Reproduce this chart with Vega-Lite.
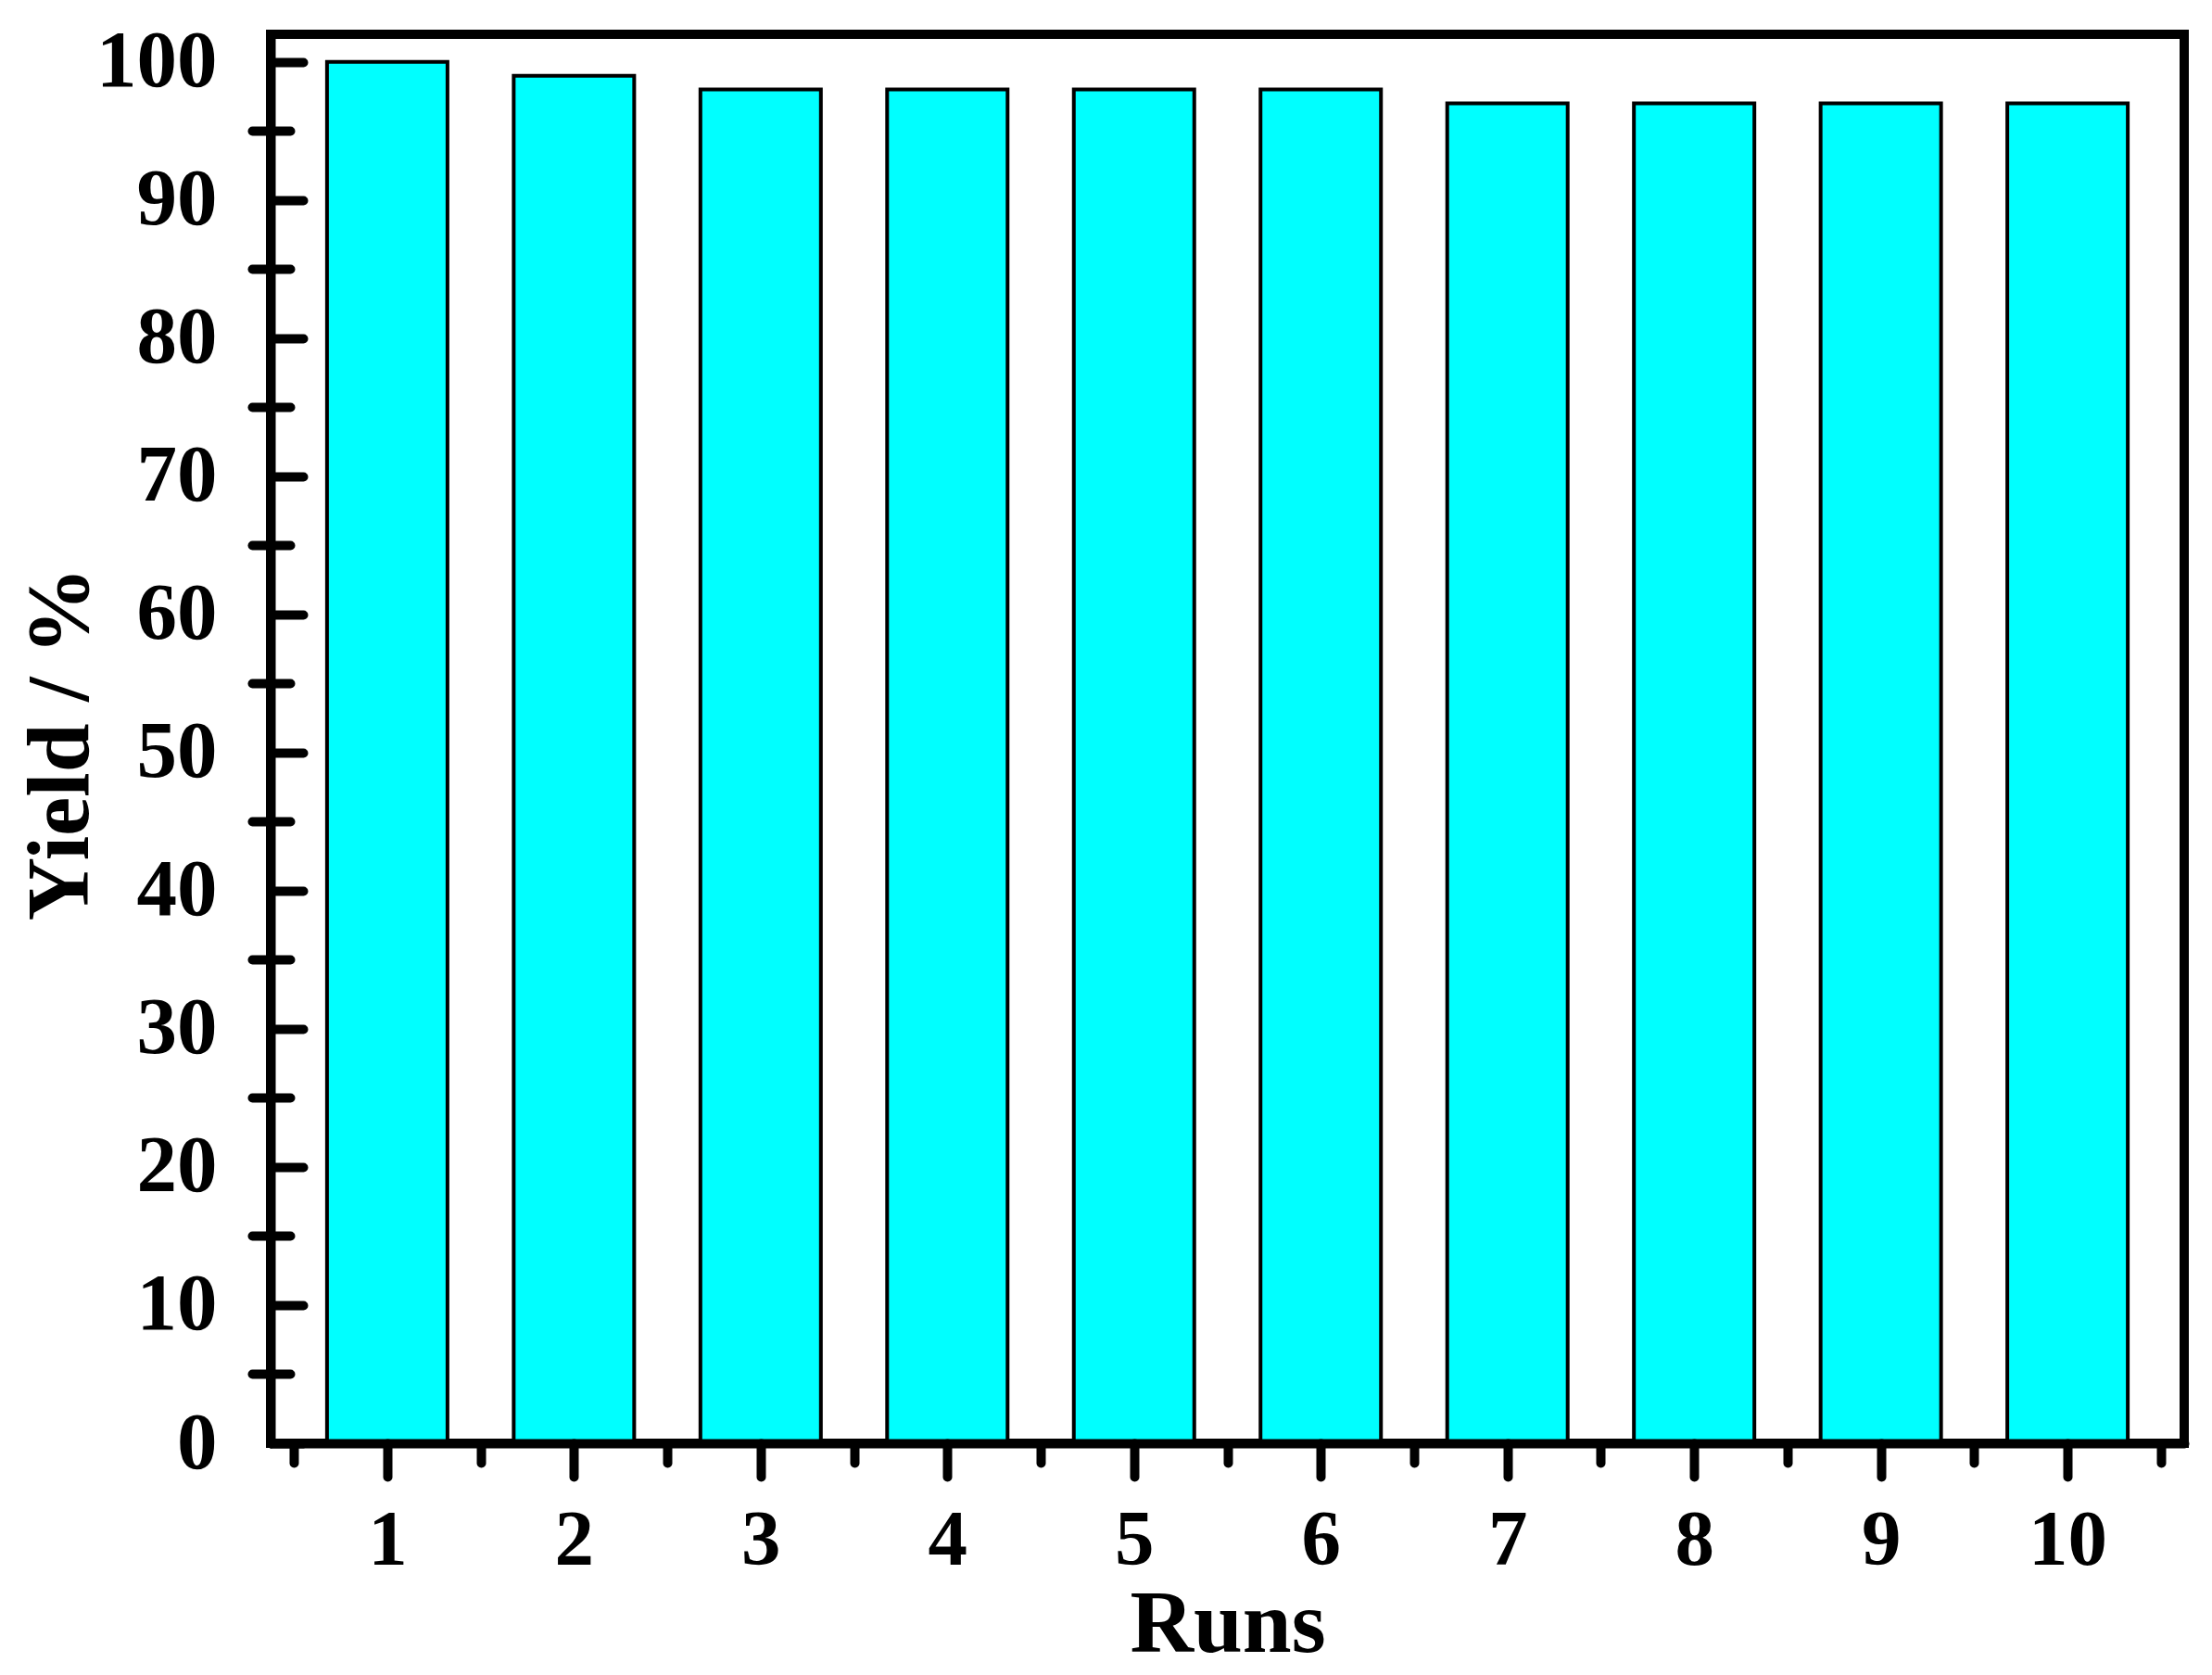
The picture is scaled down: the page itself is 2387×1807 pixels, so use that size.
{
  "$schema": "https://vega.github.io/schema/vega-lite/v6.json",
  "description": "Yield over ten catalyst reuse runs",
  "autosize": {"type": "none"},
  "padding": {"left": 292, "top": 37, "right": 30, "bottom": 250},
  "width": 2065,
  "height": 1520,
  "background": "white",
  "data": {
    "values": [
      {"run": 1, "yield": 100},
      {"run": 2, "yield": 99},
      {"run": 3, "yield": 98},
      {"run": 4, "yield": 98},
      {"run": 5, "yield": 98},
      {"run": 6, "yield": 98},
      {"run": 7, "yield": 97},
      {"run": 8, "yield": 97},
      {"run": 9, "yield": 97},
      {"run": 10, "yield": 97}
    ]
  },
  "layer": [
    {
      "mark": {"type": "bar", "width": 130, "fill": "#00FFFF", "stroke": "black", "strokeWidth": 4},
      "encoding": {
        "x": {
          "field": "run",
          "type": "quantitative",
          "scale": {"domain": [0.4, 10.6], "nice": false, "zero": false},
          "axis": {
            "orient": "bottom",
            "values": [1, 2, 3, 4, 5, 6, 7, 8, 9, 10],
            "title": "Runs",
            "titleY": 149,
            "titleBaseline": "top",
            "tickSize": 36,
            "labelPadding": 27,
            "labelFontSize": 85,
            "domain": true,
            "zindex": 1
          }
        },
        "y": {
          "field": "yield",
          "type": "quantitative",
          "scale": {"domain": [0, 102], "nice": false},
          "axis": {
            "orient": "left",
            "values": [0, 10, 20, 30, 40, 50, 60, 70, 80, 90, 100],
            "title": "Yield / %",
            "titleX": -198,
            "titleY": 765,
            "titleAngle": -90,
            "titleBaseline": "alphabetic",
            "titleAlign": "center",
            "ticks": false,
            "tickSize": 0,
            "labelPadding": 58,
            "domain": true,
            "zindex": 1
          }
        }
      }
    },
    {
      "mark": {"type": "point", "opacity": 0},
      "encoding": {
        "x": {
          "field": "run",
          "type": "quantitative",
          "axis": {
            "orient": "bottom",
            "values": [0.5, 1.5, 2.5, 3.5, 4.5, 5.5, 6.5, 7.5, 8.5, 9.5, 10.5],
            "labels": false,
            "title": null,
            "domain": false,
            "tickSize": 21,
            "zindex": 1
          }
        },
        "y": {
          "field": "yield",
          "type": "quantitative",
          "axis": {
            "orient": "left",
            "values": [0, 10, 20, 30, 40, 50, 60, 70, 80, 90, 100],
            "labels": false,
            "title": null,
            "domain": false,
            "tickSize": 35,
            "offset": -35,
            "zindex": 1
          }
        }
      }
    },
    {
      "mark": {"type": "point", "opacity": 0},
      "encoding": {
        "x": {"field": "run", "type": "quantitative", "axis": null},
        "y": {
          "field": "yield",
          "type": "quantitative",
          "axis": {
            "orient": "left",
            "values": [5, 15, 25, 35, 45, 55, 65, 75, 85, 95],
            "labels": false,
            "title": null,
            "domain": false,
            "tickSize": 41,
            "offset": -21,
            "zindex": 1
          }
        }
      }
    }
  ],
  "resolve": {"axis": {"x": "independent", "y": "independent"}},
  "config": {
    "view": {"stroke": "black", "strokeWidth": 10},
    "axis": {
      "grid": false,
      "domainColor": "black",
      "domainWidth": 10,
      "domainCap": "round",
      "tickColor": "black",
      "tickWidth": 10,
      "tickCap": "round",
      "labelFont": "Liberation Serif",
      "labelFontWeight": "bold",
      "labelFontSize": 87,
      "labelColor": "black",
      "labelFlush": false,
      "labelOverlap": false,
      "titleFont": "Liberation Serif",
      "titleFontWeight": "bold",
      "titleFontSize": 95,
      "titleColor": "black"
    }
  }
}
